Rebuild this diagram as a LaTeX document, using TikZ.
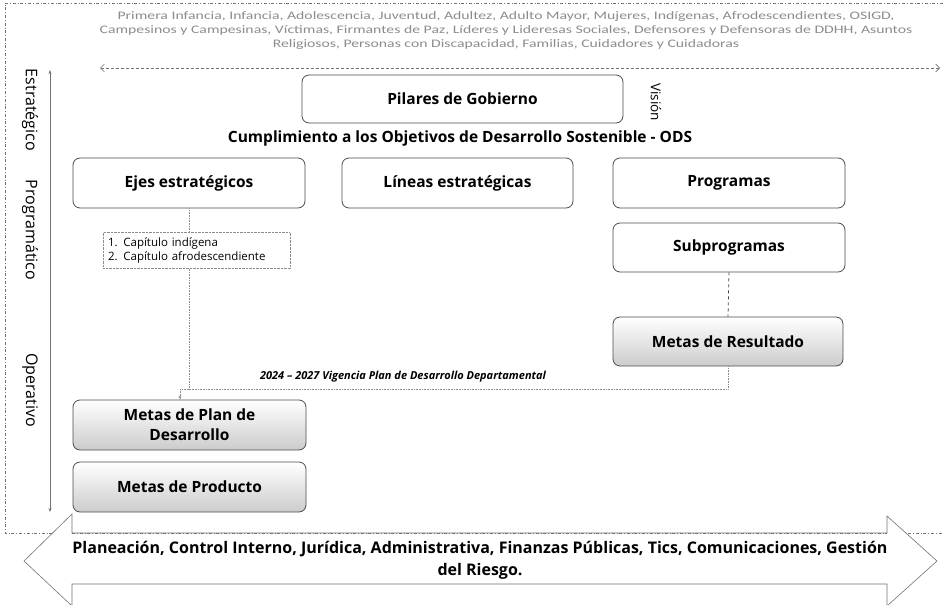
\documentclass[tikz,border=0pt]{standalone}
\usepackage{fontspec}
\setmainfont{Open Sans}
\newfontfamily\topfont[FakeStretch=1.37]{Carlito}
\usetikzlibrary{arrows.meta}

\tikzset{
  nivel/.style={draw=black!70, line width=0.8pt, rounded corners=7pt, fill=white,
    align=center, font=\fontsize{15.5}{20}\selectfont\bfseries},
  meta/.style={nivel, top color=white, bottom color=black!20},
  eje/.style={rotate=-90, font=\fontsize{16}{18}\selectfont},
  enlace/.style={draw=black!45, line width=0.6pt, densely dotted},
  marco/.style={draw=black!55, line width=0.6pt, dash dot},
}

\begin{document}
\begin{tikzpicture}[x=1pt,y=-1pt]
  \useasboundingbox (0,0) rectangle (943,605);
  % marco general
  \draw[marco] (943,3) -- (5,3) -- (5,533) -- (943,533);
  \node[text=black!45, align=center, font=\topfont\fontsize{11.5}{14}\selectfont] (poblacion) at (506,30)
    {Primera Infancia, Infancia, Adolescencia, Juventud, Adultez, Adulto Mayor, Mujeres, Indígenas, Afrodescendientes, OSIGD,\\
     Campesinos y Campesinas, Víctimas, Firmantes de Paz, Líderes y Lideresas Sociales, Defensores y Defensoras de DDHH, Asuntos\\
     Religiosos, Personas con Discapacidad, Familias, Cuidadores y Cuidadoras};
  \coordinate (pizq) at (100,68);
  \coordinate (pder) at (940,68);
  \draw[black!55, line width=0.6pt, densely dashed, {Straight Barb[length=4pt]}-{Straight Barb[length=4pt]}] (pizq) -- (pder);

  % eje vertical
  \coordinate (arriba) at (50,70);
  \coordinate (abajo) at (50,512);
  \draw[black!55, line width=0.6pt, {Stealth[length=4pt]}-{Stealth[length=4pt]}] (arriba) -- (abajo);
  \node[eje] (estrategico) at (30,110) {Estratégico};
  \node[eje] (programatico) at (30,230) {Programático};
  \node[eje] (operativo) at (30,390) {Operativo};

  % niveles
  \node[nivel, minimum width=321pt, minimum height=48pt] (pilares) at (462.5,99) {Pilares de Gobierno};
  \node[eje, font=\fontsize{13.5}{15}\selectfont] (vision) at (656,102) {Visión};
  \node[font=\fontsize{15.5}{17}\selectfont\bfseries] (ods) at (460,138)
    {Cumplimiento a los Objetivos de Desarrollo Sostenible - ODS};
  \node[nivel, minimum width=232pt, minimum height=50pt] (ejes) at (189,183) {Ejes estratégicos};
  \node[nivel, minimum width=231pt, minimum height=50pt] (lineas) at (457.5,183) {Líneas estratégicas};
  \node[nivel, minimum width=232pt, minimum height=50pt] (programas) at (729,183) {Programas};
  \node[nivel, minimum width=232pt, minimum height=49pt] (subprogramas) at (729,247.5) {Subprogramas};
  \node[meta, minimum width=230pt, minimum height=49pt] (resultado) at (728,341.5) {Metas de Resultado};
  \node[meta, minimum width=233pt, minimum height=50pt] (plan) at (189.5,425) {Metas de Plan de\\Desarrollo};
  \node[meta, minimum width=233pt, minimum height=50pt] (producto) at (189.5,487) {Metas de Producto};
  \node[draw=black!45, densely dotted, align=left, text width=177pt, inner sep=5pt,
    minimum height=33pt, font=\fontsize{11.5}{14.5}\selectfont] (capitulos) at (196.5,250.5)
    {1.\enspace Capítulo indígena\\2.\enspace Capítulo afrodescendiente};

  % enlaces
  \coordinate (cruce) at (728,389);
  \coordinate (bajada) at (180,389);
  \draw[enlace] (ejes.south) -- (ejes.south |- capitulos.north);
  \draw[enlace] (ejes.south |- capitulos.south) -- (ejes.south |- cruce);
  \draw[enlace] (resultado.south) -- (cruce) -- (bajada);
  \draw[enlace, -{Stealth[length=4pt]}] (bajada) -- (bajada |- plan.north);
  \draw[black!75, line width=0.8pt, dashed] (subprogramas.south) -- (resultado.north);
  \node[font=\fontsize{11}{13}\selectfont\bfseries\itshape] (vigencia) at (403,377)
    {2024 – 2027 Vigencia Plan de Desarrollo Departamental};

  % flecha de apoyo
  \draw[black!55, line width=0.6pt, fill=white]
    (24,561) -- (72,514) -- (72,533) -- (887,533) -- (887,516) -- (937,561)
    -- (887,606) -- (887,584) -- (72,584) -- (72,606) -- cycle;
  \draw[marco] (72,533) -- (887,533);
  \node[align=center, font=\fontsize{16}{22}\selectfont\bfseries] (apoyo) at (480,560)
    {Planeación, Control Interno, Jurídica, Administrativa, Finanzas Públicas, Tics, Comunicaciones, Gestión\\del Riesgo.};
\end{tikzpicture}
\end{document}
